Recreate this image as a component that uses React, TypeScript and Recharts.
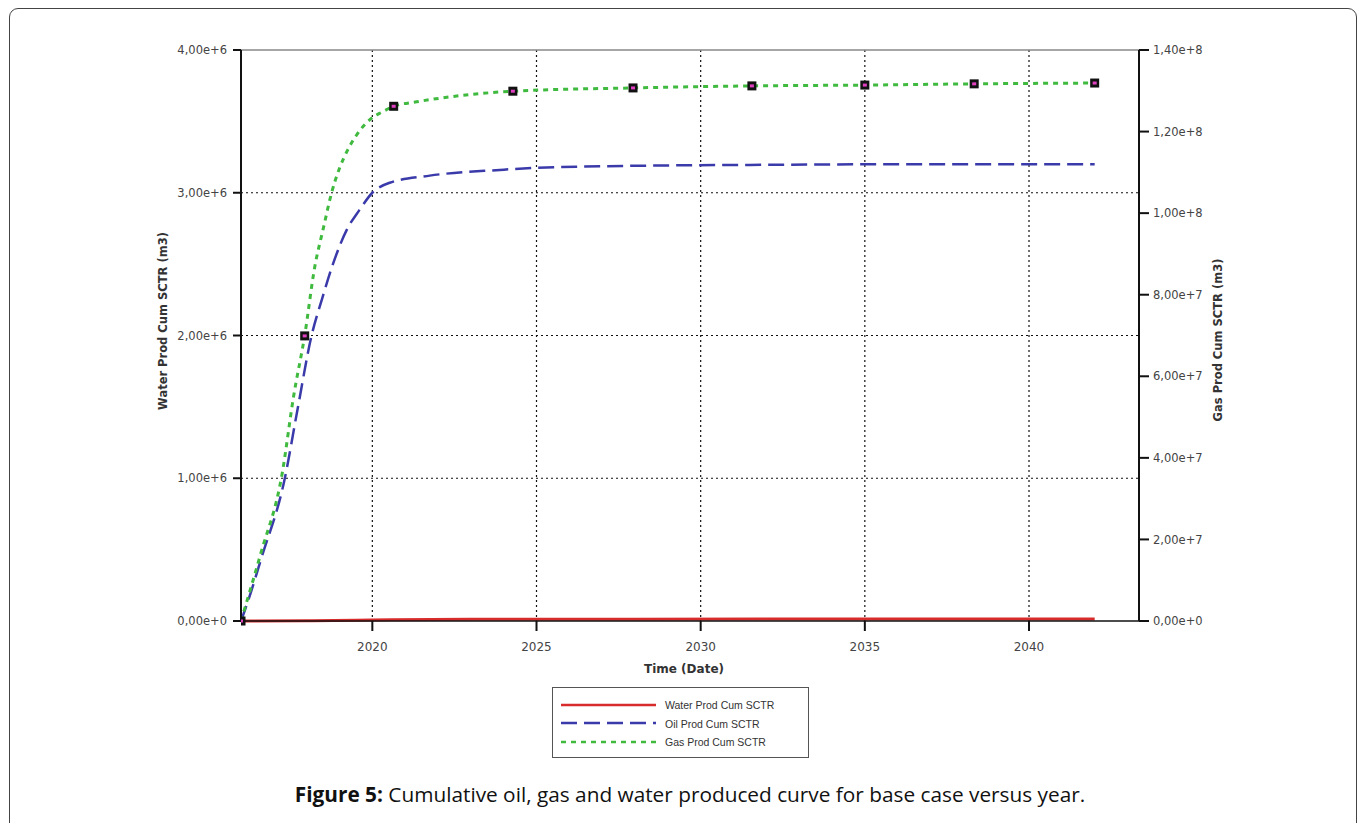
import React from 'react';
import { ComposedChart, Line, XAxis, YAxis, CartesianGrid, ReferenceLine } from 'recharts';

const xTicks = [2020, 2025, 2030, 2035, 2040];
const leftTicks = [0, 1e6, 2e6, 3e6, 4e6];
const rightTicks = [0, 2e7, 4e7, 6e7, 8e7, 1e8, 1.2e8, 1.4e8];

const gasYears = [2016.0, 2016.6, 2017.25, 2017.6, 2017.94, 2018.25, 2018.5, 2018.76, 2019.0, 2019.25, 2019.55, 2019.95, 2020.3, 2020.65, 2021.35, 2022.36, 2024.28, 2027.94, 2031.56, 2035.0, 2038.33, 2042.0];
const gasValues = [0, 1.65e7, 3.6e7, 5.5e7, 7.0e7, 8.7e7, 9.6e7, 1.05e8, 1.11e8, 1.155e8, 1.195e8, 1.231e8, 1.248e8, 1.262e8, 1.273e8, 1.285e8, 1.299e8, 1.307e8, 1.312e8, 1.314e8, 1.317e8, 1.319e8];

const oilYears = [2016.0, 2016.2, 2016.62, 2017.33, 2017.72, 2018.15, 2018.46, 2018.8, 2019.22, 2019.61, 2020.0, 2020.53, 2021.75, 2023.88, 2025.01, 2028.45, 2031.5, 2036.08, 2042.0];
const oilValues = [0, 0.13e6, 0.44e6, 0.995e6, 1.48e6, 2.0e6, 2.25e6, 2.5e6, 2.74e6, 2.88e6, 3.0e6, 3.07e6, 3.12e6, 3.16e6, 3.175e6, 3.19e6, 3.195e6, 3.2e6, 3.2e6];

const waterYears = [2016.0, 2018.0, 2019.5, 2020.6, 2023.0, 2028.0, 2035.0, 2042.0];
const waterValues = [0, 2000, 5000, 9000, 11500, 13000, 14000, 14500];

const markerYears = [2016.0, 2017.94, 2020.65, 2024.28, 2027.94, 2031.56, 2035.0, 2038.33, 2042.0];
const markerValues = [0, 6.99e7, 1.262e8, 1.299e8, 1.307e8, 1.312e8, 1.314e8, 1.317e8, 1.319e8];

const legendLabels = ['Water Prod Cum SCTR', 'Oil Prod Cum SCTR', 'Gas Prod Cum SCTR'];

const gasData = gasYears.map((year, i) => ({ year, gas: gasValues[i] }));
const oilData = oilYears.map((year, i) => ({ year, oil: oilValues[i] }));
const waterData = waterYears.map((year, i) => ({ year, water: waterValues[i] }));
const markerData = markerYears.map((year, i) => ({ year, marker: markerValues[i] }));

const GREEN = '#3fba3f';
const BLUE = '#3a3aaa';
const RED = '#d82c2c';
const TICK_FONT = 'DejaVu Sans, Verdana, sans-serif';

const fmt = (v: number) => {
  if (v === 0) return '0,00e+0';
  const exp = Math.floor(Math.log10(v) + 1e-9);
  const mant = v / Math.pow(10, exp);
  return mant.toFixed(2).replace('.', ',') + 'e+' + exp;
};

const tickStyle = { fontSize: 11.5, fill: '#444', fontFamily: TICK_FONT };

const MarkerDot = (props: any) => {
  const { cx, cy, index } = props;
  if (cx == null || cy == null) return <g key={'m' + index} />;
  return (
    <g key={'m' + index}>
      <rect x={cx - 4.5} y={cy - 4.5} width={9} height={9} fill="#111" />
      <rect x={cx - 2} y={cy - 1.5} width={4} height={3} fill="#e040c0" />
    </g>
  );
};

const LegendBox = () => (
  <div
    style={{
      position: 'absolute',
      left: 552,
      top: 687,
      width: 257,
      height: 71,
      boxSizing: 'border-box',
      border: '1px solid #555',
      background: '#fff',
    }}
  >
    <svg width={257} height={71} style={{ position: 'absolute', left: -1, top: -1 }}>
      <line x1={9} x2={104} y1={18} y2={18} stroke={RED} strokeWidth={2.5} />
      <line x1={9} x2={104} y1={36} y2={36} stroke={BLUE} strokeWidth={2.5} strokeDasharray="16 7" />
      <line x1={9} x2={104} y1={55} y2={55} stroke={GREEN} strokeWidth={2.5} strokeDasharray="5 5" />
      {legendLabels.map((t, i) => (
        <text key={t} x={113} y={22 + i * 18.5} fontSize={10.5} fill="#333" fontFamily="Liberation Sans, Arial, sans-serif">
          {t}
        </text>
      ))}
    </svg>
  </div>
);

export default function App() {
  return (
    <div style={{ position: 'absolute', left: 0, top: 0, width: 1360, height: 823, background: '#fff', overflow: 'hidden' }}>
      <div
        style={{
          position: 'absolute',
          left: 9,
          top: 8,
          width: 1348,
          height: 840,
          border: '1px solid #444',
          borderRadius: 9,
          boxSizing: 'border-box',
        }}
      />
      <div style={{ position: 'absolute', left: 0, top: 0 }}>
        <ComposedChart width={1360} height={823} margin={{ top: 50, left: 161, right: 141, bottom: 172 }}>
          <CartesianGrid
            yAxisId="left"
            xAxisId="x"
            stroke="#111"
            strokeDasharray="2 3"
            strokeWidth={1.2}
            horizontalValues={[1e6, 2e6, 3e6]}
            verticalValues={xTicks}
          />
          <XAxis
            xAxisId="x"
            dataKey="year"
            type="number"
            domain={[2016, 2043.35]}
            allowDataOverflow
            ticks={xTicks}
            tickFormatter={(v: number) => String(v)}
            height={30}
            tickSize={10}
            tickMargin={11}
            axisLine={{ stroke: '#111', strokeWidth: 1.5 }}
            tickLine={{ stroke: '#111', strokeWidth: 2 }}
            tick={{ ...tickStyle, fontSize: 12 }}
            label={{
              content: () => (
                <text x={684} y={673} textAnchor="middle" fontSize={12} fontWeight="bold" fill="#333" fontFamily={TICK_FONT}>
                  Time (Date)
                </text>
              ),
            }}
          />
          <YAxis
            yAxisId="left"
            orientation="left"
            type="number"
            domain={[0, 4e6]}
            ticks={leftTicks}
            tickFormatter={fmt}
            width={80}
            tickSize={8}
            tickMargin={6}
            axisLine={{ stroke: '#111', strokeWidth: 2 }}
            tickLine={{ stroke: '#111', strokeWidth: 2 }}
            tick={tickStyle}
            label={{
              content: () => (
                <text
                  x={163}
                  y={321}
                  transform="rotate(-90 163 321)"
                  textAnchor="middle"
                  dominantBaseline="central"
                  fontSize={11.5}
                  fontWeight="bold"
                  fill="#333"
                  fontFamily={TICK_FONT}
                >
                  Water Prod Cum SCTR (m3)
                </text>
              ),
            }}
          />
          <YAxis
            yAxisId="right"
            orientation="right"
            type="number"
            domain={[0, 1.4e8]}
            ticks={rightTicks}
            tickFormatter={fmt}
            width={80}
            tickSize={10}
            tickMargin={4}
            axisLine={{ stroke: '#111', strokeWidth: 2 }}
            tickLine={{ stroke: '#111', strokeWidth: 2 }}
            tick={tickStyle}
            label={{
              content: () => (
                <text
                  x={1218}
                  y={340}
                  transform="rotate(-90 1218 340)"
                  textAnchor="middle"
                  dominantBaseline="central"
                  fontSize={11.5}
                  fontWeight="bold"
                  fill="#333"
                  fontFamily={TICK_FONT}
                >
                  Gas Prod Cum SCTR (m3)
                </text>
              ),
            }}
          />
          <ReferenceLine yAxisId="left" xAxisId="x" y={4e6} stroke="#888" strokeWidth={1.5} />
          <Line
            data={waterData}
            xAxisId="x"
            yAxisId="left"
            dataKey="water"
            type="monotone"
            stroke={RED}
            strokeWidth={3}
            dot={false}
            isAnimationActive={false}
          />
          <Line
            data={oilData}
            xAxisId="x"
            yAxisId="left"
            dataKey="oil"
            type="monotone"
            stroke={BLUE}
            strokeWidth={2.5}
            strokeDasharray="16 7"
            dot={false}
            isAnimationActive={false}
          />
          <Line
            data={gasData}
            xAxisId="x"
            yAxisId="right"
            dataKey="gas"
            type="monotone"
            stroke={GREEN}
            strokeWidth={3}
            strokeDasharray="5 5"
            dot={false}
            isAnimationActive={false}
          />
          <Line
            data={markerData}
            xAxisId="x"
            yAxisId="right"
            dataKey="marker"
            stroke="none"
            dot={MarkerDot}
            activeDot={false}
            legendType="none"
            isAnimationActive={false}
          />
        </ComposedChart>
      </div>
      <LegendBox />
      <div
        style={{
          position: 'absolute',
          left: 0,
          width: 1380,
          top: 779,
          textAlign: 'center',
          fontFamily: 'Open Sans, sans-serif',
          fontSize: 20.8,
          lineHeight: '30px',
          color: '#111',
          whiteSpace: 'nowrap',
        }}
      >
        <b>Figure 5:</b> Cumulative oil, gas and water produced curve for base case versus year.
      </div>
    </div>
  );
}
